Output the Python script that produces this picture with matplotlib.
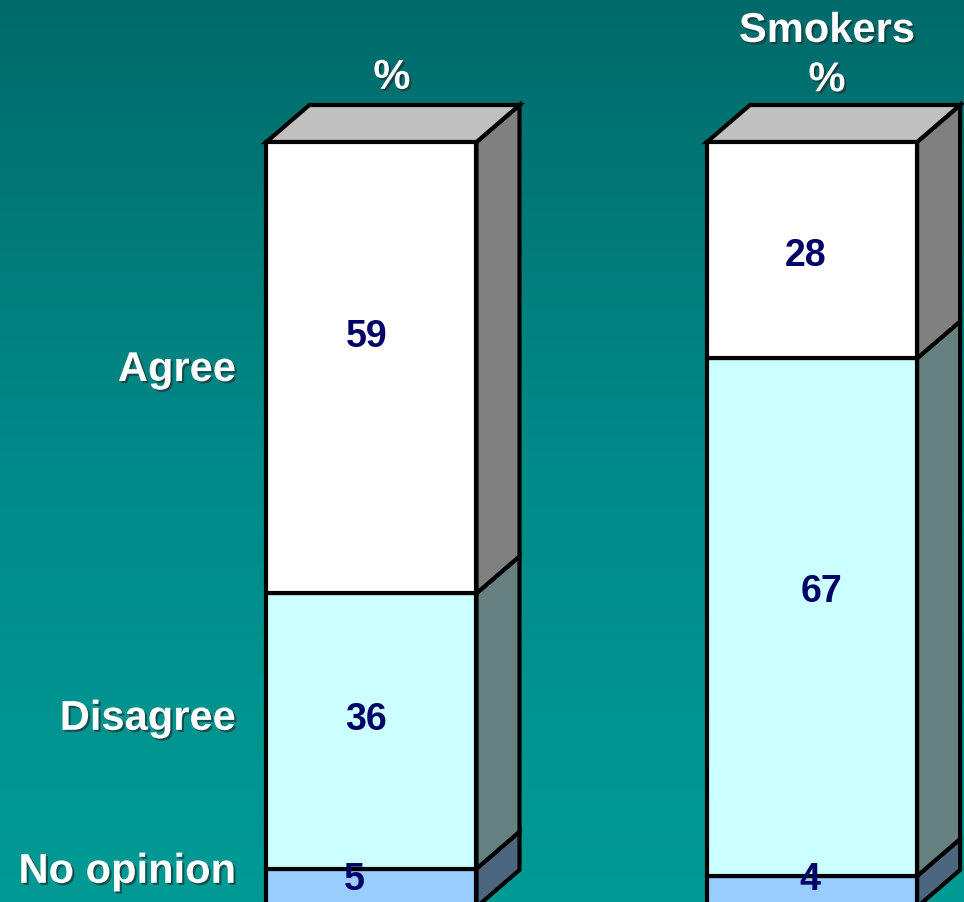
import numpy as np
import matplotlib
matplotlib.use("Agg")
import matplotlib.pyplot as plt
from matplotlib.patches import Polygon
from matplotlib.colors import LinearSegmentedColormap
import matplotlib.patheffects as pe

# ---- data ----
categories = ["Agree", "Disagree", "No opinion"]
all_adults = [59, 36, 5]
smokers = [28, 67, 4]
group_titles = ["%", "Smokers\n%"]

# value-label placement (x offset from bar centre, y in % of stack)
label_dx = [[-0.012, -0.012, -0.040], [-0.014, 0.022, -0.005]]
label_y = [[74.6, 24.6, 3.6], [85.2, 41.3, 3.6]]
category_label_y = [70.2, 24.6, 4.6]

# ---- styling ----
front_colors = {"Agree": "#ffffff", "Disagree": "#ccffff", "No opinion": "#99ccff"}
side_colors = {"Agree": "#808080", "Disagree": "#668080", "No opinion": "#4d6680"}
top_color = "#c0c0c0"
value_color = "#000066"
edge_lw = 3.0

W, H, DPI = 964, 903, 100
fig = plt.figure(figsize=(W / DPI, H / DPI), dpi=DPI)
ax = fig.add_axes([0, 0, 1, 1])
ax.set_xlim(-0.843, 1.345)
ax.set_ylim(0.65, 118.7)
ax.axis("off")

# vertical teal gradient background
grad = np.linspace(0, 1, 256).reshape(-1, 1)
cmap = LinearSegmentedColormap.from_list("teal", ["#006a6a", "#008a88", "#009a94"])
ax.imshow(grad, aspect="auto", cmap=cmap, extent=[0, 1, 0, 1],
          transform=ax.transAxes, origin="upper", zorder=0)

width = 0.477
dx, dy = 0.0976, 4.84
xs = [0, 1]
shadow = [pe.withSimplePatchShadow(offset=(1.5, -1.5), shadow_rgbFace="#1a3333", alpha=0.7)]

for gi, series in enumerate([all_adults, smokers]):
    x = xs[gi]
    total = sum(series)
    pct = [v / total * 100 for v in series]
    # stack from the bottom: No opinion, Disagree, Agree
    order = [2, 1, 0]
    bottom = 0.0
    for idx in order:
        cat = categories[idx]
        h = pct[idx]
        ax.bar(x, h, bottom=bottom, width=width, color=front_colors[cat],
               edgecolor="black", linewidth=edge_lw, zorder=3)
        xr = x + width / 2
        side = Polygon([(xr, bottom), (xr + dx, bottom + dy),
                        (xr + dx, bottom + h + dy), (xr, bottom + h)],
                       closed=True, facecolor=side_colors[cat],
                       edgecolor="black", linewidth=edge_lw,
                       joinstyle="miter", zorder=2)
        ax.add_patch(side)
        bottom += h
    xl, xr = x - width / 2, x + width / 2
    top = Polygon([(xl, bottom), (xl + dx, bottom + dy),
                   (xr + dx, bottom + dy), (xr, bottom)],
                  closed=True, facecolor=top_color, edgecolor="black",
                  linewidth=edge_lw, joinstyle="miter", zorder=2)
    ax.add_patch(top)

    for idx in range(3):
        ax.text(x + label_dx[gi][idx], label_y[gi][idx], f"{series[idx]}",
                ha="center", va="center", fontsize=27, fontweight="bold",
                family="Liberation Sans", color=value_color, zorder=5)

# column headings
ax.text(0.0465, 108.4, group_titles[0], ha="center", va="center", fontsize=30,
        fontweight="bold", family="Liberation Sans", color="white",
        path_effects=shadow, zorder=5)
ax.text(1.034, 111.3, group_titles[1], ha="center", va="center", fontsize=30,
        fontweight="bold", family="Liberation Sans", color="white",
        linespacing=1.3, path_effects=shadow, zorder=5)

# category labels on the left
for cat, y in zip(categories, category_label_y):
    ax.text(-0.3076, y, cat, ha="right", va="center", fontsize=30,
            fontweight="bold", family="Liberation Sans", color="white",
            path_effects=shadow, zorder=5)

fig.savefig("out.png", dpi=DPI)
